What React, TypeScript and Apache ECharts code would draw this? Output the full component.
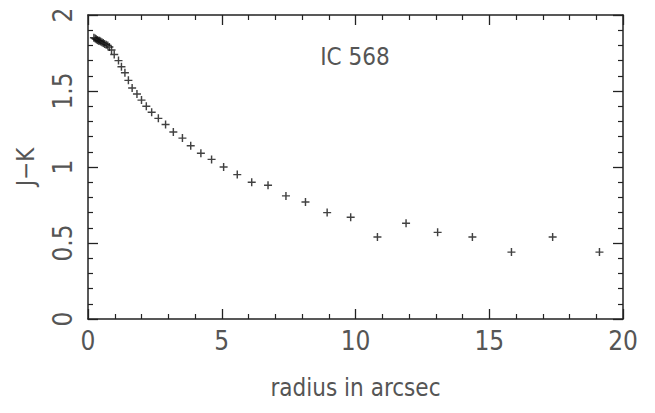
import React, { useEffect, useRef } from "react";
import * as echarts from "echarts";

const radius = [
  0.22, 0.27, 0.31, 0.35, 0.39, 0.43, 0.47, 0.52, 0.57, 0.62, 0.68, 0.74, 0.8, 0.88, 0.98,
  1.14, 1.25, 1.38, 1.51, 1.65, 1.83, 2.0, 2.18, 2.38, 2.63, 2.9, 3.19, 3.53, 3.84, 4.22,
  4.62, 5.07, 5.58, 6.12, 6.73, 7.4, 8.13, 8.94, 9.82, 10.82, 11.89, 13.07, 14.37, 15.83,
  17.37, 19.12,
];
const jk = [
  1.85, 1.845, 1.84, 1.835, 1.83, 1.83, 1.825, 1.82, 1.815, 1.81, 1.805, 1.8, 1.79, 1.77, 1.74,
  1.7, 1.66, 1.62, 1.57, 1.52, 1.48, 1.44, 1.4, 1.36, 1.32, 1.28, 1.23, 1.19, 1.14, 1.09,
  1.05, 1.0, 0.95, 0.9, 0.88, 0.81, 0.77, 0.7, 0.67, 0.54, 0.63, 0.57, 0.54, 0.44,
  0.54, 0.44,
];
const xTicks = [0, 5, 10, 15, 20];
const yTicks = [0, 0.5, 1, 1.5, 2];
const titleText = "IC 568";
const xName = "radius in arcsec";
const yName = "J\u2212K";

const FONT = "'Liberation Sans Narrow', 'DejaVu Sans Condensed', 'DejaVu Sans', sans-serif";
const TXT = "#555";
const LINE = "#222";

const plus =
  "path://M0.41,0 H0.59 V0.41 H1 V0.59 H0.59 V1 H0.41 V0.59 H0 V0.41 H0.41 Z";

function axisCommon(isX: boolean, showLabel: boolean, pos: string) {
  const ticks = isX ? xTicks : yTicks;
  return {
    type: "value" as const,
    position: pos,
    min: ticks[0],
    max: ticks[ticks.length - 1],
    interval: ticks[1] - ticks[0],
    axisLine: { show: true, onZero: false, lineStyle: { color: LINE, width: 1.5 } },
    axisTick: { show: true, inside: true, length: 10, lineStyle: { color: LINE, width: 1.3 } },
    minorTick: { show: true, splitNumber: 5, length: 5, lineStyle: { color: LINE, width: 1.2 } },
    splitLine: { show: false },
    axisLabel: showLabel
      ? {
          show: true,
          fontFamily: FONT,
          fontSize: 26,
          fontWeight: 300,
          color: TXT,
          margin: isX ? 9 : 12,
          rotate: isX ? 0 : 90,
          formatter: (v: number) => String(v),
        }
      : { show: false },
  };
}

export default function App() {
  const ref = useRef<HTMLDivElement>(null);
  useEffect(() => {
    if (!ref.current) return;
    const chart = echarts.init(ref.current, null, { renderer: "svg" });
    const data = radius.map((r, i) => [r, jk[i]]);
    chart.setOption({
      animation: false,
      backgroundColor: "#fff",
      grid: {
        left: 88,
        right: 32,
        top: 15,
        bottom: 94,
        containLabel: false,
        outerBoundsMode: "none",
      },
      xAxis: [
        {
          ...axisCommon(true, true, "bottom"),
          name: xName,
          nameLocation: "middle",
          nameGap: 57,
          nameTextStyle: { fontFamily: FONT, fontSize: 24, fontWeight: 300, color: TXT },
        },
        { ...axisCommon(true, false, "top") },
      ],
      yAxis: [
        {
          ...axisCommon(false, true, "left"),
          name: yName,
          nameLocation: "middle",
          nameGap: 50,
          nameRotate: 90,
          nameTextStyle: { fontFamily: FONT, fontSize: 24, fontWeight: 300, color: TXT },
        },
        { ...axisCommon(false, false, "right") },
      ],
      graphic: [
        {
          type: "text",
          x: 355,
          y: 57,
          style: {
            text: titleText,
            fontFamily: FONT,
            fontSize: 24,
            fontWeight: 300,
            fill: TXT,
            textAlign: "center",
            textVerticalAlign: "middle",
          },
        },
      ],
      series: [
        {
          type: "scatter",
          xAxisIndex: 0,
          yAxisIndex: 0,
          data,
          symbol: plus,
          symbolSize: 8,
          itemStyle: { color: "#111" },
        },
      ],
    });
    return () => chart.dispose();
  }, []);
  return <div ref={ref} style={{ width: 655, height: 413, position: "absolute", left: 0, top: 0 }} />;
}
